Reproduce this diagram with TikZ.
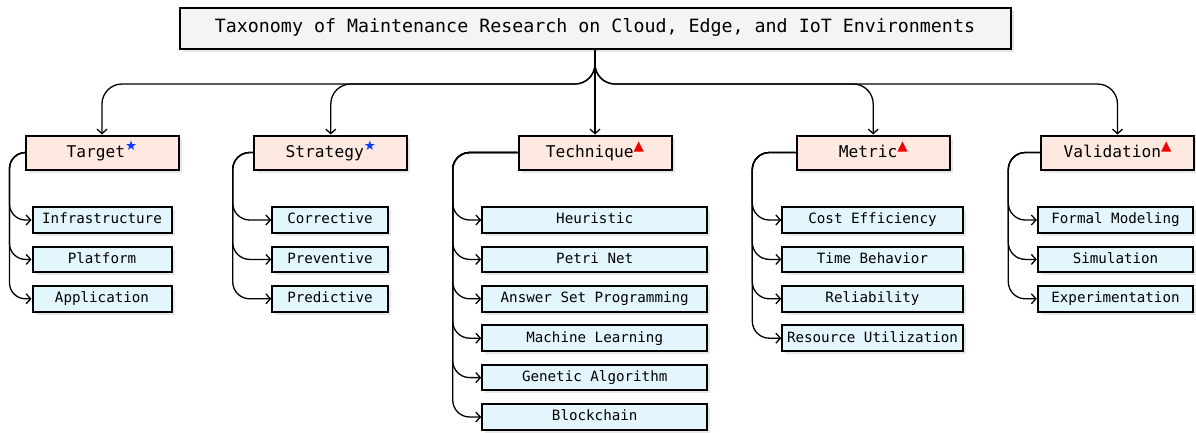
\documentclass[tikz,border=0pt]{standalone}
\usepackage{fontspec}
\setmonofont{DejaVu Sans Mono}
\newfontfamily\symfont{DejaVu Sans}
\usetikzlibrary{arrows.meta,shadows}
\definecolor{titlefill}{HTML}{F4F4F4}
\definecolor{catfill}{HTML}{FDE9DF}
\definecolor{leaffill}{HTML}{E3F6FD}
\definecolor{starblue}{HTML}{0A3CFF}
\definecolor{trired}{HTML}{F20000}
\newcommand{\bluestar}{\raisebox{0.40em}{\symfont\fontsize{13.5}{12}\selectfont\textcolor{starblue}{★}}}
\newcommand{\redtri}{\raisebox{0.42em}{\symfont\fontsize{13.5}{12}\selectfont\textcolor{trired}{▲}}}
\tikzset{
  basebox/.style={draw=black, line width=2pt, inner sep=0pt, text depth=0em,
    drop shadow={opacity=0.18, shadow xshift=3pt, shadow yshift=-3pt}},
  titlebox/.style={basebox, fill=titlefill, minimum width=831pt, minimum height=41pt,
    text height=0.8em, font=\ttfamily\fontsize{18.3}{20}\selectfont},
  catbox/.style={basebox, fill=catfill, minimum width=153pt, minimum height=34pt,
    text height=0.92em, font=\ttfamily\fontsize{16.2}{18}\selectfont},
  leafbox/.style={basebox, fill=leaffill, minimum height=25.5pt,
    text height=0.78em, font=\ttfamily\fontsize{14.2}{16}\selectfont},
  conn/.style={line width=1.3pt, -{Straight Barb[length=4.5pt,width=10pt,line width=1.3pt]}},
}
\begin{document}
\begin{tikzpicture}[x=1pt,y=-1pt]
\useasboundingbox (0,0) rectangle (1196,432);

\node[titlebox] (title) at (595,28) {Taxonomy of Maintenance Research on Cloud, Edge, and IoT Environments};

\node[catbox] (tgt) at (102,152.5) {Target\bluestar};
\node[catbox] (str) at (330.8,152.5) {Strategy\bluestar};
\node[catbox] (tec) at (595,152.5) {Technique\redtri};
\node[catbox] (met) at (873.2,152.5) {Metric\redtri};
\node[catbox] (val) at (1117.5,152.5) {Validation\redtri};

% Target leaves
\node[leafbox, minimum width=139pt] (t1) at (102,220) {Infrastructure};
\node[leafbox, minimum width=139pt] (t2) at (102,259.4) {Platform};
\node[leafbox, minimum width=139pt] (t3) at (102,298.8) {Application};
% Strategy leaves
\node[leafbox, minimum width=115.5pt] (s1) at (330,220) {Corrective};
\node[leafbox, minimum width=115.5pt] (s2) at (330,259.4) {Preventive};
\node[leafbox, minimum width=115.5pt] (s3) at (330,298.8) {Predictive};
% Technique leaves
\node[leafbox, minimum width=225pt] (q1) at (594.7,220) {Heuristic};
\node[leafbox, minimum width=225pt] (q2) at (594.7,259.4) {Petri Net};
\node[leafbox, minimum width=225pt] (q3) at (594.7,298.8) {Answer Set Programming};
\node[leafbox, minimum width=225pt] (q4) at (594.7,338.2) {Machine Learning};
\node[leafbox, minimum width=225pt] (q5) at (594.7,377.6) {Genetic Algorithm};
\node[leafbox, minimum width=225pt] (q6) at (594.7,417) {Blockchain};
% Metric leaves
\node[leafbox, minimum width=180.5pt] (m1) at (872.5,220) {Cost Efficiency};
\node[leafbox, minimum width=180.5pt] (m2) at (872.5,259.4) {Time Behavior};
\node[leafbox, minimum width=180.5pt] (m3) at (872.5,298.8) {Reliability};
\node[leafbox, minimum width=180.5pt] (m4) at (872.5,338.2) {Resource Utilization};
% Validation leaves
\node[leafbox, minimum width=155.5pt] (v1) at (1115.5,220) {Formal Modeling};
\node[leafbox, minimum width=155.5pt] (v2) at (1115.5,259.4) {Simulation};
\node[leafbox, minimum width=155.5pt] (v3) at (1115.5,298.8) {Experimentation};

% top connectors
\coordinate (split) at (595,64);
\coordinate (hub) at (595,84);
\draw[conn] (title.south) -- (tec.north);
\draw[conn, rounded corners=20pt] (split) -- (hub) -| (tgt.north);
\draw[conn, rounded corners=20pt] (split) -- (hub) -| (str.north);
\draw[conn, rounded corners=20pt] (split) -- (hub) -| (met.north);
\draw[conn, rounded corners=20pt] (split) -- (hub) -| (val.north);

% side connectors
\coordinate (tv) at (9.5,152.5);
\coordinate (sv) at (232.7,152.5);
\coordinate (qv) at (452.7,152.5);
\coordinate (mv) at (752.3,152.5);
\coordinate (vv) at (1008.3,152.5);
\foreach \c in {t1,t2,t3} \draw[conn, rounded corners=16pt] (tgt.west) -- (tv) |- (\c.west);
\foreach \c in {s1,s2,s3} \draw[conn, rounded corners=17pt] (str.west) -- (sv) |- (\c.west);
\foreach \c in {q1,q2,q3,q4,q5,q6} \draw[conn, rounded corners=17pt] (tec.west) -- (qv) |- (\c.west);
\foreach \c in {m1,m2,m3,m4} \draw[conn, rounded corners=17pt] (met.west) -- (mv) |- (\c.west);
\foreach \c in {v1,v2,v3} \draw[conn, rounded corners=17pt] (val.west) -- (vv) |- (\c.west);
\end{tikzpicture}
\end{document}
